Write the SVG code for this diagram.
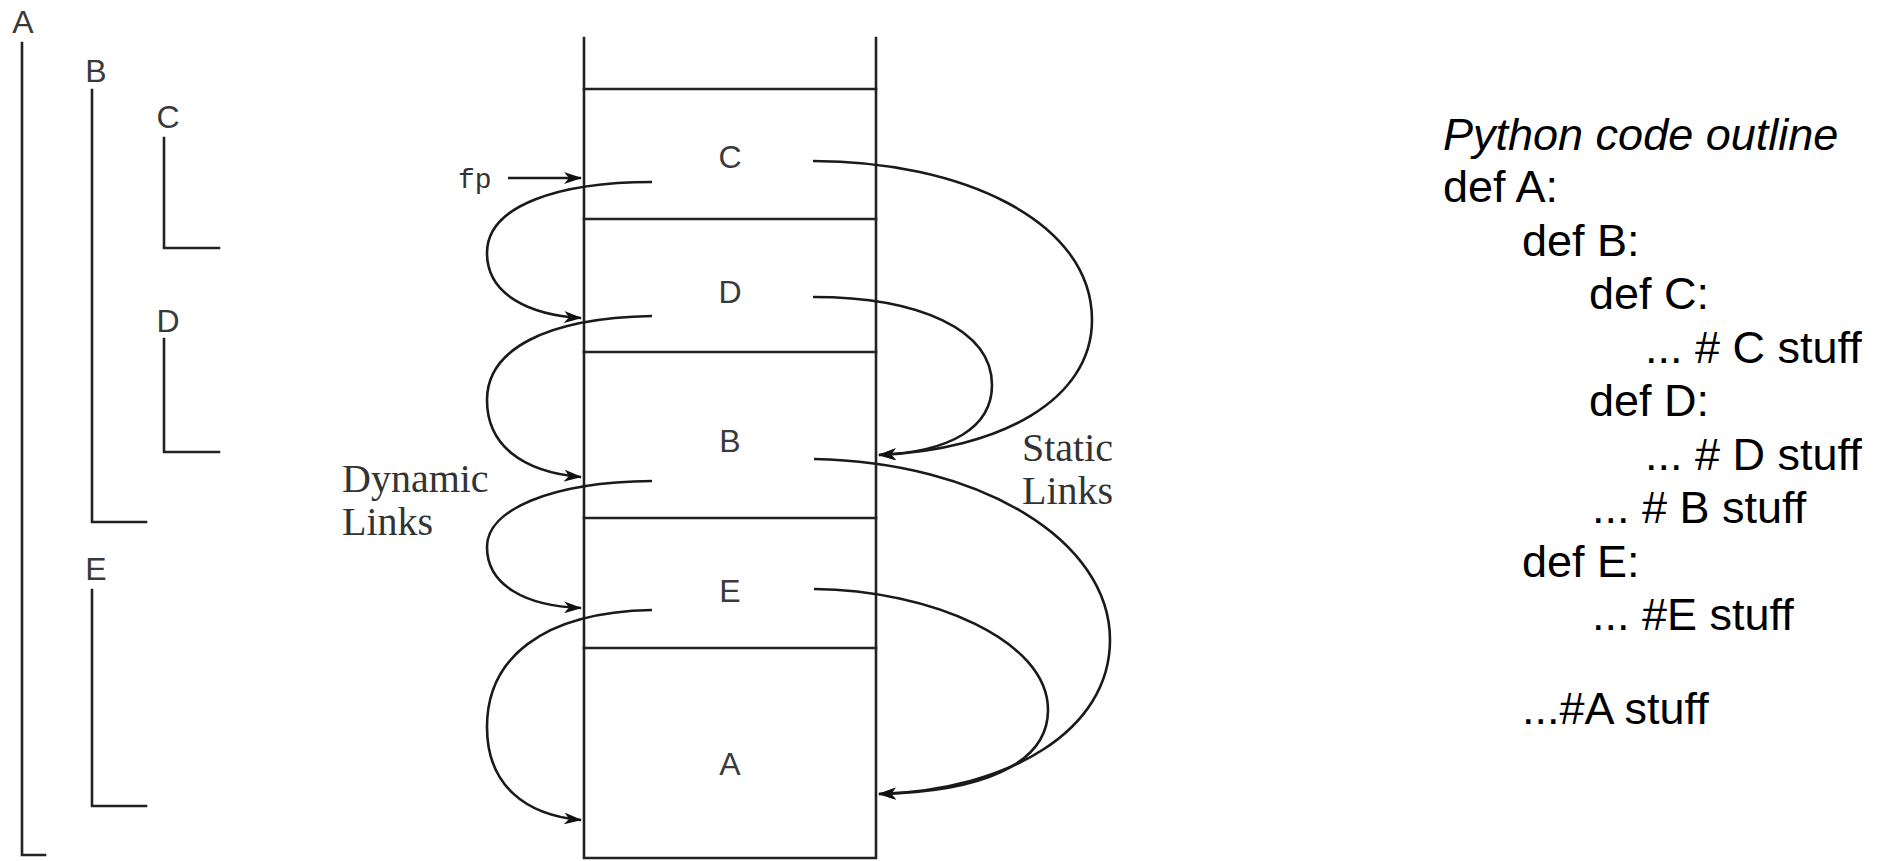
<svg xmlns="http://www.w3.org/2000/svg" width="1892" height="861" viewBox="0 0 1892 861">
<style>
.ln{stroke:#222;stroke-width:2.6;fill:none;stroke-linecap:square}
.arc{stroke:#1a1a1a;stroke-width:2.6;fill:none}
.lbl{font-family:"Liberation Sans",Arial,sans-serif;font-size:32px;fill:#3a3a3a;text-anchor:middle}
.cm{font-family:"Liberation Serif","Times New Roman",serif;font-size:40px;fill:#333}
.tt{font-family:"Liberation Mono","Courier New",monospace;font-size:28px;fill:#333}
.code{font-family:"Liberation Sans",Arial,sans-serif;font-size:45px;fill:#000}
</style>
<defs>
<marker id="ah" viewBox="0 0 18 12" refX="17" refY="6" markerWidth="18" markerHeight="12" markerUnits="userSpaceOnUse" orient="auto">
<path d="M0,0 L18,6 L0,12 L5,6 z" fill="#111"/>
</marker>
</defs>
<rect width="1892" height="861" fill="#fff"/>

<g id="scopes">
<g id="scope-A"><text class="lbl" x="23" y="33">A</text><path class="ln" d="M22,43 V855 H45"/></g>
<g id="scope-B"><text class="lbl" x="96" y="82">B</text><path class="ln" d="M92,90 V522 H146"/></g>
<g id="scope-C"><text class="lbl" x="168" y="128">C</text><path class="ln" d="M164,138 V248 H219"/></g>
<g id="scope-D"><text class="lbl" x="168" y="332">D</text><path class="ln" d="M164,339 V452 H219"/></g>
<g id="scope-E"><text class="lbl" x="96" y="580">E</text><path class="ln" d="M92,590 V806 H146"/></g>
</g>

<g id="stack">
<path class="ln" d="M584,38 V858 M876,38 V858 M584,858 H876"/>
<g id="frame-C"><path class="ln" d="M584,89 H876"/><text class="lbl" x="730" y="168">C</text></g>
<g id="frame-D"><path class="ln" d="M584,219 H876"/><text class="lbl" x="730" y="303">D</text></g>
<g id="frame-B"><path class="ln" d="M584,352 H876"/><text class="lbl" x="730" y="452">B</text></g>
<g id="frame-E"><path class="ln" d="M584,518 H876"/><text class="lbl" x="730" y="602">E</text></g>
<g id="frame-A"><path class="ln" d="M584,648 H876"/><text class="lbl" x="730" y="775">A</text></g>
</g>

<g id="fp"><text class="tt" x="458" y="188">fp</text></g>

<g id="connectors">
<path class="arc" marker-end="url(#ah)" d="M508,178 H581"/>
<path class="arc" marker-end="url(#ah)" d="M652,182 C560,182 487,205 487,253 C487,295 530,315 581,318"/>
<path class="arc" marker-end="url(#ah)" d="M652,316 C545,318 487,350 487,400 C487,445 522,472 581,477"/>
<path class="arc" marker-end="url(#ah)" d="M652,481 C550,482 487,510 487,547 C487,585 525,606 581,608"/>
<path class="arc" marker-end="url(#ah)" d="M652,610 C540,612 487,660 487,727 C487,785 525,815 581,820"/>
<path class="arc" marker-end="url(#ah)" d="M813,161 C960,161 1092,220 1092,320 C1092,400 1000,450 879,455"/>
<path class="arc" marker-end="url(#ah)" d="M813,297 C920,297 992,330 992,385 C992,428 950,452 879,455"/>
<path class="arc" marker-end="url(#ah)" d="M814,459 C980,462 1110,540 1110,640 C1110,730 1010,790 879,794"/>
<path class="arc" marker-end="url(#ah)" d="M814,589 C930,590 1048,640 1048,710 C1048,765 980,792 879,794"/>
</g>

<g id="dynamic-label"><text class="cm" x="342" y="492">Dynamic</text><text class="cm" x="342" y="535">Links</text></g>
<g id="static-label"><text class="cm" x="1022" y="461">Static</text><text class="cm" x="1022" y="504">Links</text></g>

<g id="code">
<text class="code" x="1443" y="150" font-style="italic">Python code outline</text>
<text class="code" x="1443" y="202">def A:</text>
<text class="code" x="1522" y="256">def B:</text>
<text class="code" x="1589" y="309">def C:</text>
<text class="code" x="1645" y="363">... # C stuff</text>
<text class="code" x="1589" y="416">def D:</text>
<text class="code" x="1645" y="470">... # D stuff</text>
<text class="code" x="1592" y="523">... # B stuff</text>
<text class="code" x="1522" y="577">def E:</text>
<text class="code" x="1592" y="630">... #E stuff</text>
<text class="code" x="1522" y="724">...#A stuff</text>
</g>
</svg>
